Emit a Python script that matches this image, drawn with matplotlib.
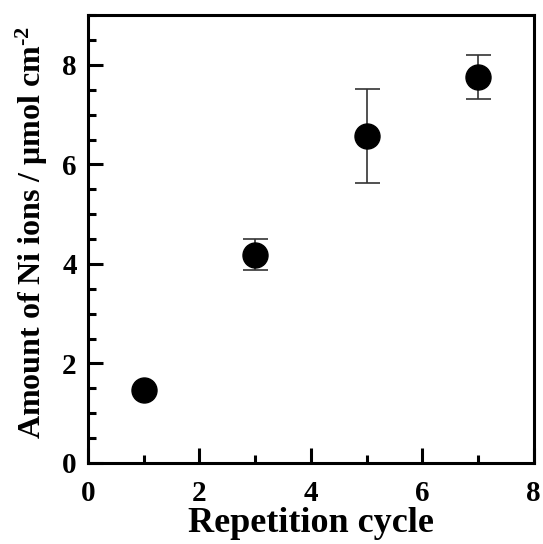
import numpy as np
import matplotlib.pyplot as plt
from matplotlib.ticker import MultipleLocator

# data
cycle = [1, 3, 5, 7]
amount = [1.47, 4.18, 6.57, 7.75]
err_low = [0.0, 0.30, 0.94, 0.43]
err_high = [0.0, 0.32, 0.94, 0.45]

plt.rcParams['font.family'] = 'Liberation Serif'
plt.rcParams['font.weight'] = 'bold'
plt.rcParams['mathtext.fontset'] = 'custom'
plt.rcParams['mathtext.rm'] = 'Liberation Serif:bold'
plt.rcParams['mathtext.it'] = 'Liberation Serif:bold'
plt.rcParams['mathtext.bf'] = 'Liberation Serif:bold'

fig = plt.figure(figsize=(5.43, 5.44), dpi=100)
ax = fig.add_axes([0.162, 0.149, 0.821, 0.823])

ax.errorbar(cycle, amount, yerr=[err_low, err_high], fmt='o', color='black',
            markersize=18, ecolor='#333333', elinewidth=1.2, capsize=9,
            capthick=1.2, zorder=3)

ax.set_xlim(0, 8)
ax.set_ylim(0, 9)
ax.xaxis.set_major_locator(MultipleLocator(2))
ax.xaxis.set_minor_locator(MultipleLocator(1))
ax.yaxis.set_major_locator(MultipleLocator(2))
ax.yaxis.set_minor_locator(MultipleLocator(0.5))

ax.tick_params(which='both', direction='in', top=False, right=False,
               width=2.2, labelsize=21)
ax.tick_params(which='major', length=11)
ax.tick_params(axis='x', which='major', pad=12)
ax.tick_params(axis='y', which='major', pad=8)
ax.tick_params(which='minor', length=6)
for s in ax.spines.values():
    s.set_linewidth(2.2)

ax.set_xlabel('Repetition cycle', fontsize=26, fontweight='bold', labelpad=0)
ax.set_ylabel(r'Amount of Ni ions / $\mathrm{\mu}$mol cm$^{\text{-}2}$',
              fontsize=23, fontweight='bold', labelpad=9)
ax.yaxis.label.set_y(0.514)

fig.savefig('out.png', dpi=100)
